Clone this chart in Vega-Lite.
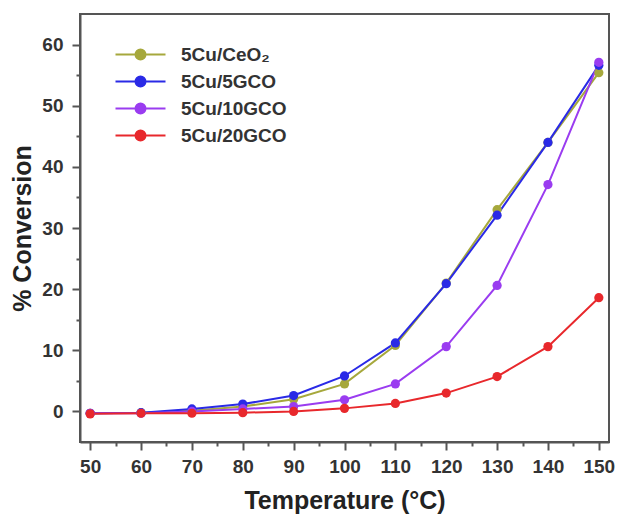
{
  "$schema": "https://vega.github.io/schema/vega-lite/v6.json",
  "width": 529,
  "height": 428,
  "autosize": {"type": "none"},
  "padding": {"left": 80, "top": 14, "right": 12, "bottom": 80},
  "background": "white",
  "config": {
    "view": {"stroke": "#555", "strokeWidth": 2},
    "font": "Liberation Sans"
  },
  "data": {
    "values": [
      {"T": 50, "conv": -0.3, "catalyst": "5Cu/CeO₂"},
      {"T": 60, "conv": -0.2, "catalyst": "5Cu/CeO₂"},
      {"T": 70, "conv": 0.1, "catalyst": "5Cu/CeO₂"},
      {"T": 80, "conv": 0.8, "catalyst": "5Cu/CeO₂"},
      {"T": 90, "conv": 2.0, "catalyst": "5Cu/CeO₂"},
      {"T": 100, "conv": 4.5, "catalyst": "5Cu/CeO₂"},
      {"T": 110, "conv": 10.8, "catalyst": "5Cu/CeO₂"},
      {"T": 120, "conv": 21.0, "catalyst": "5Cu/CeO₂"},
      {"T": 130, "conv": 33.0, "catalyst": "5Cu/CeO₂"},
      {"T": 140, "conv": 44.0, "catalyst": "5Cu/CeO₂"},
      {"T": 150, "conv": 55.4, "catalyst": "5Cu/CeO₂"},
      {"T": 50, "conv": -0.3, "catalyst": "5Cu/5GCO"},
      {"T": 60, "conv": -0.2, "catalyst": "5Cu/5GCO"},
      {"T": 70, "conv": 0.4, "catalyst": "5Cu/5GCO"},
      {"T": 80, "conv": 1.2, "catalyst": "5Cu/5GCO"},
      {"T": 90, "conv": 2.6, "catalyst": "5Cu/5GCO"},
      {"T": 100, "conv": 5.8, "catalyst": "5Cu/5GCO"},
      {"T": 110, "conv": 11.2, "catalyst": "5Cu/5GCO"},
      {"T": 120, "conv": 20.9, "catalyst": "5Cu/5GCO"},
      {"T": 130, "conv": 32.1, "catalyst": "5Cu/5GCO"},
      {"T": 140, "conv": 44.0, "catalyst": "5Cu/5GCO"},
      {"T": 150, "conv": 56.6, "catalyst": "5Cu/5GCO"},
      {"T": 50, "conv": -0.3, "catalyst": "5Cu/10GCO"},
      {"T": 60, "conv": -0.3, "catalyst": "5Cu/10GCO"},
      {"T": 70, "conv": 0.0, "catalyst": "5Cu/10GCO"},
      {"T": 80, "conv": 0.4, "catalyst": "5Cu/10GCO"},
      {"T": 90, "conv": 0.8, "catalyst": "5Cu/10GCO"},
      {"T": 100, "conv": 1.9, "catalyst": "5Cu/10GCO"},
      {"T": 110, "conv": 4.5, "catalyst": "5Cu/10GCO"},
      {"T": 120, "conv": 10.6, "catalyst": "5Cu/10GCO"},
      {"T": 130, "conv": 20.6, "catalyst": "5Cu/10GCO"},
      {"T": 140, "conv": 37.1, "catalyst": "5Cu/10GCO"},
      {"T": 150, "conv": 57.1, "catalyst": "5Cu/10GCO"},
      {"T": 50, "conv": -0.4, "catalyst": "5Cu/20GCO"},
      {"T": 60, "conv": -0.3, "catalyst": "5Cu/20GCO"},
      {"T": 70, "conv": -0.3, "catalyst": "5Cu/20GCO"},
      {"T": 80, "conv": -0.2, "catalyst": "5Cu/20GCO"},
      {"T": 90, "conv": 0.0, "catalyst": "5Cu/20GCO"},
      {"T": 100, "conv": 0.5, "catalyst": "5Cu/20GCO"},
      {"T": 110, "conv": 1.3, "catalyst": "5Cu/20GCO"},
      {"T": 120, "conv": 3.0, "catalyst": "5Cu/20GCO"},
      {"T": 130, "conv": 5.7, "catalyst": "5Cu/20GCO"},
      {"T": 140, "conv": 10.6, "catalyst": "5Cu/20GCO"},
      {"T": 150, "conv": 18.6, "catalyst": "5Cu/20GCO"}
    ]
  },
  "encoding": {
    "x": {
      "field": "T",
      "type": "quantitative",
      "scale": {"domain": [48, 152], "nice": false, "zero": false},
      "axis": {
        "title": "Temperature (°C)",
        "values": [50,55,60,65,70,75,80,85,90,95,100,105,110,115,120,125,130,135,140,145,150],
        "labelExpr": "datum.value % 10 === 0 ? datum.label : ''",
        "tickSize": {"condition": {"test": "datum.value % 10 === 0", "value": 8}, "value": 4},
        "grid": false,
        "domainColor": "#555",
        "domainWidth": 2,
        "tickColor": "#555",
        "tickWidth": 2,
        "labelFontSize": 19,
        "labelFontWeight": "bold",
        "labelColor": "#333",
        "labelPadding": 7,
        "labelFlush": false,
        "titleFontSize": 25,
        "titleFontWeight": "bold",
        "titleColor": "#222",
        "titlePadding": 12
      }
    },
    "y": {
      "field": "conv",
      "type": "quantitative",
      "scale": {"domain": [-5, 65], "nice": false, "zero": false},
      "axis": {
        "title": "% Conversion",
        "values": [0,5,10,15,20,25,30,35,40,45,50,55,60],
        "labelExpr": "datum.value % 10 === 0 ? datum.label : ''",
        "tickSize": {"condition": {"test": "datum.value % 10 === 0", "value": 8}, "value": 4},
        "grid": false,
        "domainColor": "#555",
        "domainWidth": 2,
        "tickColor": "#555",
        "tickWidth": 2,
        "labelFontSize": 19,
        "labelFontWeight": "bold",
        "labelColor": "#333",
        "labelPadding": 9,
        "titleFontSize": 25,
        "titleFontWeight": "bold",
        "titleColor": "#222",
        "titlePadding": 6
      }
    },
    "color": {
      "field": "catalyst",
      "type": "nominal",
      "scale": {
        "domain": ["5Cu/CeO₂", "5Cu/5GCO", "5Cu/10GCO", "5Cu/20GCO"],
        "range": ["#a6a83c", "#2a2ae6", "#9a3cf0", "#e8282c"]
      },
      "legend": {
        "title": null,
        "orient": "none",
        "legendX": 51,
        "legendY": 31,
        "padding": 0,
        "symbolType": "M-5,0L5,0M-1,0A1,1,0,1,1,1,0A1,1,0,1,1,-1,0Z",
        "symbolSize": 100,
        "symbolStrokeWidth": 2,
        "labelOffset": 31,
        "labelFontSize": 19,
        "labelFontWeight": "bold",
        "labelColor": "#333",
        "rowPadding": 7,
        "encode": {
          "symbols": {
            "update": {
              "stroke": {"scale": "color", "field": "value"},
              "fill": {"scale": "color", "field": "value"},
              "strokeWidth": {"value": 2}
            }
          }
        }
      }
    }
  },
  "layer": [
    {"mark": {"type": "line", "strokeWidth": 2}},
    {"mark": {"type": "point", "filled": true, "size": 85, "opacity": 1}}
  ]
}
